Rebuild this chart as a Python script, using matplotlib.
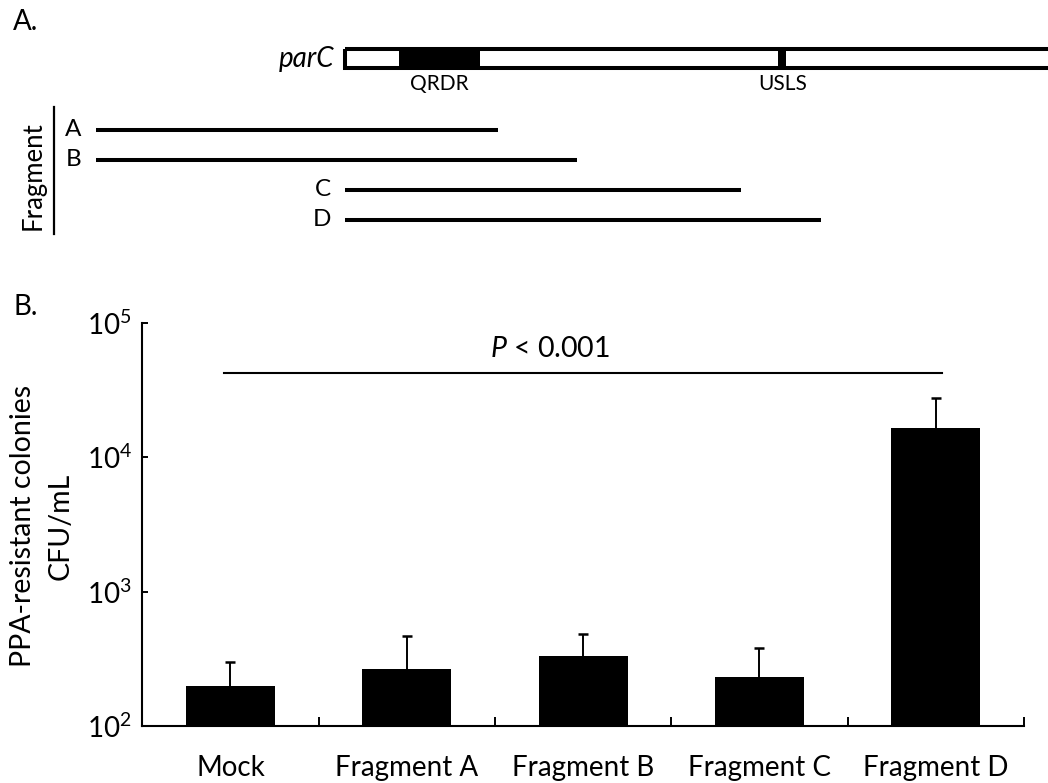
#!/usr/bin/env python3
import matplotlib
matplotlib.use('Agg')
import matplotlib.pyplot as plt
import numpy as np
from matplotlib.patches import Rectangle

plt.rcParams['font.family'] = ['Lato', 'DejaVu Sans']
plt.rcParams['mathtext.fontset'] = 'custom'
plt.rcParams['mathtext.rm'] = 'Lato'
plt.rcParams['mathtext.it'] = 'Lato:italic'

# panel A: gene map (positions relative to the parC start)
parc_span = (0, 720)
qrdr_span = (56, 137)
usls_span = (435.5, 443.5)
frag_names = ['A', 'B', 'C', 'D']
frag_start = [-247, -247, 2, 2]
frag_end = [155, 234, 398, 478]

# panel B: PPA-resistant colonies
groups = ['Mock', 'Fragment A', 'Fragment B', 'Fragment C', 'Fragment D']
cfu_mean = [198, 266, 332, 231, 16400]
cfu_upper = [298, 470, 483, 382, 27400]
p_text = '$\\it{P}$ < 0.001'

W, H = 1048, 783
fig = plt.figure(figsize=(W / 100, H / 100), dpi=100)

# ---- panel A ----
ax_a = fig.add_axes([0, 0, 1, 1])
ax_a.set_xlim(-342.7, W - 342.7)
ax_a.set_ylim(H, 0)
ax_a.axis('off')

lw_thick = 2.9
box_top, box_bot = 48.7, 68.3
ax_a.add_patch(Rectangle((qrdr_span[0], box_top - 2), qrdr_span[1] - qrdr_span[0],
                         box_bot - box_top + 4, facecolor='black', edgecolor='none'))
ax_a.add_patch(Rectangle((usls_span[0], box_top - 2), usls_span[1] - usls_span[0],
                         box_bot - box_top + 4, facecolor='black', edgecolor='none'))
ax_a.add_patch(Rectangle((parc_span[0] + 2, box_top), parc_span[1] - parc_span[0],
                         box_bot - box_top, facecolor='none', edgecolor='black',
                         lw=lw_thick, joinstyle='miter'))
ax_a.text(-8, 59, 'parC', style='italic', fontsize=20, ha='right', va='center')
ax_a.text(np.mean(qrdr_span), 84, 'QRDR', fontsize=15, ha='center', va='center')
ax_a.text(np.mean(usls_span), 84, 'USLS', fontsize=15, ha='center', va='center')

row_y = [130, 160, 190, 220]
for name, s, e, y in zip(frag_names, frag_start, frag_end, row_y):
    ax_a.plot([s, e], [y, y], color='black', lw=lw_thick, solid_capstyle='butt')
    ax_a.text(s - 14, y, name, fontsize=17.5, ha='right', va='center')

ax_a.plot([54.3 - 342.7] * 2, [107, 234], color='black', lw=1.6)
ax_a.text(33 - 342.7, 176, 'Fragment', fontsize=18.5, rotation=90, ha='center', va='center')
ax_a.text(13 - 342.7, 22, 'A.', fontsize=20, ha='left', va='center')
ax_a.text(14 - 342.7, 307, 'B.', fontsize=20, ha='left', va='center')

# ---- panel B ----
ax_b = fig.add_axes([142.3 / W, 1 - 726 / H, (1024 - 142.3) / W, (726 - 322.7) / H])
ax_b.patch.set_alpha(0)
x = np.arange(len(groups))
ax_b.bar(x, cfu_mean, width=0.505, color='black', edgecolor='none', zorder=2)
# upper error bars only
ax_b.vlines(x, cfu_mean, cfu_upper, color='black', lw=1.4, zorder=1)
ax_b.plot(x, cfu_upper, ls='none', marker='_', ms=7.5, mew=1.8, color='black', zorder=1)

ax_b.set_yscale('log')
ax_b.set_ylim(1e2, 1e5)
ax_b.set_xlim(-0.5, len(groups) - 0.5)
ax_b.set_yticks([1e2, 1e3, 1e4, 1e5])
ax_b.set_yticklabels(['$10^{2}$', '$10^{3}$', '$10^{4}$', '$10^{5}$'])
ax_b.yaxis.set_minor_locator(matplotlib.ticker.NullLocator())
ax_b.tick_params(axis='y', direction='in', length=4.3, width=1.4, pad=7.5, labelsize=20)

ax_b.set_xticks(np.arange(len(groups)) + 0.5)
ax_b.set_xticklabels([])
ax_b.tick_params(axis='x', which='major', direction='in', length=6.5, width=1.4)
ax_b.set_xticks(x, minor=True)
ax_b.set_xticklabels(groups, minor=True)
ax_b.tick_params(axis='x', which='minor', length=0, pad=21, labelsize=20)

for side in ['top', 'right']:
    ax_b.spines[side].set_visible(False)
for side in ['left', 'bottom']:
    ax_b.spines[side].set_linewidth(1.5)

ax_b.plot([-0.037, 4.034], [42550, 42550], color='black', lw=1.5)
ax_b.text(1.81, 63800, p_text, fontsize=20.5, ha='center', va='center')

fig.text(42 / W, 1 - 526 / H, 'PPA-resistant colonies\nCFU/mL', fontsize=20.5,
         rotation=90, ha='center', va='center', multialignment='center', linespacing=1.55)

fig.savefig('out.png', dpi=100)
plt.close()
